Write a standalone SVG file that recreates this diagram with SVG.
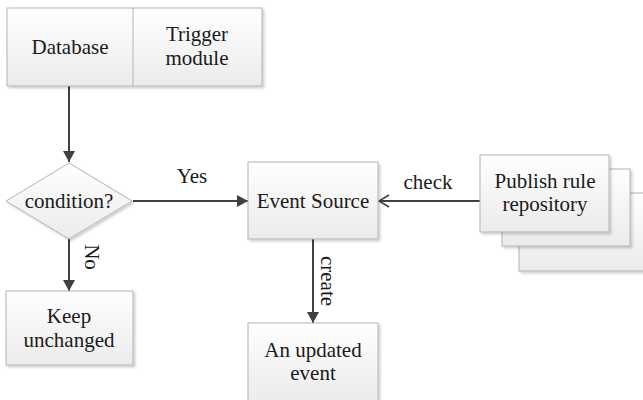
<svg xmlns="http://www.w3.org/2000/svg" width="643" height="400" viewBox="0 0 643 400" font-family="Liberation Serif, DejaVu Serif, serif">
<defs>
<linearGradient id="g" x1="0" y1="0" x2="0" y2="1">
<stop offset="0" stop-color="#ffffff"/>
<stop offset="1" stop-color="#ebebeb"/>
</linearGradient>
<marker id="ah" markerWidth="12" markerHeight="12" refX="11" refY="6" orient="auto" markerUnits="userSpaceOnUse">
<path d="M0,0 L11,6 L0,12 Z" fill="#404040"/>
</marker>
<marker id="oh" markerWidth="12" markerHeight="14" refX="11" refY="7" orient="auto" markerUnits="userSpaceOnUse">
<path d="M1,1 L11,7 L1,13" fill="none" stroke="#404040" stroke-width="1.5"/>
</marker>
<filter id="sh" x="-10%" y="-10%" width="130%" height="130%">
<feDropShadow dx="2" dy="2" stdDeviation="1" flood-color="#000" flood-opacity="0.18"/>
</filter>
</defs>
<style>
.box{fill:url(#g);stroke:#b4b4b4;stroke-width:1;filter:url(#sh)}
.t{font-size:21px;fill:#1a1a1a;text-anchor:middle}
.c{stroke:#404040;stroke-width:2;fill:none}
</style>
<rect width="643" height="400" fill="#ffffff"/>
<g id="connectors">
<line class="c" x1="69" y1="86" x2="69" y2="162" marker-end="url(#ah)"/>
<line class="c" x1="133" y1="201" x2="248" y2="201" marker-end="url(#ah)"/>
<line class="c" x1="69" y1="239" x2="69" y2="291" marker-end="url(#ah)"/>
<line class="c" x1="313" y1="239" x2="313" y2="323" marker-end="url(#ah)"/>
<line class="c" x1="480" y1="201" x2="379" y2="201" stroke-width="1.6" marker-end="url(#oh)"/>
<text class="t" x="192" y="183">Yes</text>
<text class="t" x="428" y="189">check</text>
<text class="t" x="0" y="0" transform="translate(85,257) rotate(90)">No</text>
<text class="t" x="0" y="0" transform="translate(321,281) rotate(90)">create</text>
</g>
<g id="database-trigger">
<rect class="box" x="7" y="8" width="255" height="78"/>
<line x1="133" y1="8" x2="133" y2="86" stroke="#b4b4b4" stroke-width="1"/>
<text class="t" x="70" y="54">Database</text>
<text class="t" x="197" y="41">Trigger</text>
<text class="t" x="197" y="65">module</text>
</g>
<g id="condition">
<polygon class="box" points="69,163 132,201 69,239 6,201"/>
<text class="t" x="69" y="208">condition?</text>
</g>
<g id="event-source">
<rect class="box" x="248" y="162" width="130" height="77"/>
<text class="t" x="313" y="208">Event Source</text>
</g>
<g id="publish-rule-repository">
<rect class="box" x="519" y="193" width="130" height="78"/>
<rect class="box" x="502" y="169" width="128" height="77"/>
<rect class="box" x="480" y="155" width="129" height="77"/>
<text class="t" x="545" y="188">Publish rule</text>
<text class="t" x="545" y="211">repository</text>
</g>
<g id="keep-unchanged">
<rect class="box" x="6" y="291" width="127" height="74"/>
<text class="t" x="69" y="323">Keep</text>
<text class="t" x="69" y="347">unchanged</text>
</g>
<g id="updated-event">
<rect class="box" x="248" y="323" width="130" height="80"/>
<text class="t" x="313" y="357">An updated</text>
<text class="t" x="313" y="380">event</text>
</g>
</svg>
